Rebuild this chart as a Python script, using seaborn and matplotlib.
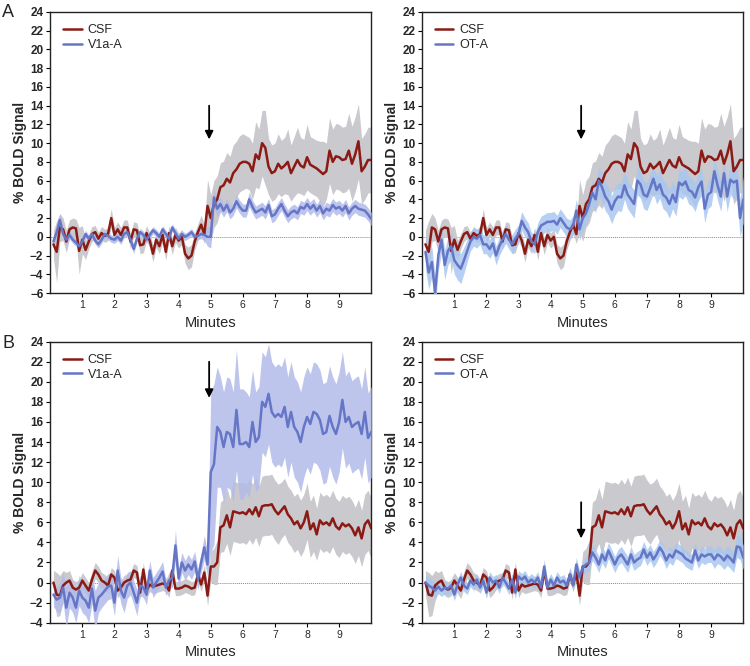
import numpy as np
import pandas as pd
import matplotlib
matplotlib.use("Agg")
import matplotlib.pyplot as plt
import seaborn as sns

sns.set_theme(style="ticks")
plt.rcParams['font.family'] = ['Liberation Sans', 'DejaVu Sans']

# time axis (minutes), one sample every 6 s
minutes = np.round(np.arange(1, 101) * 0.1, 1)

# ---- row A ----
a_csf = [-0.8, -1.6, 1.0, 0.8, -0.5, 0.8, 1.0, 0.9, -1.5, -0.3,
         -1.4, -0.5, 0.3, 0.5, -0.2, 0.4, 0.1, 0.3, 2.0, 0.2,
         0.8, 0.2, 1.0, 1.0, -0.5, 0.8, 0.7, -0.9, -0.8, 0.4,
         -0.4, -1.8, -0.3, -1.0, 0.2, -1.6, 0.4, -1.0, 0.2, -0.4,
         0.0, -1.8, -2.3, -2.0, -0.5, 0.5, 1.3, 0.3, 3.3, 2.0,
         3.5, 4.0, 5.3, 5.5, 6.2, 5.8, 6.8, 7.2, 7.8, 8.0,
         8.0, 7.8, 7.0, 8.8, 8.3, 10.0, 9.5, 7.5, 6.8, 7.0,
         7.8, 7.3, 7.6, 8.0, 6.8, 7.5, 8.2, 7.6, 7.4, 8.5,
         7.7, 7.5, 7.3, 7.0, 6.7, 7.0, 9.2, 8.0, 8.6, 8.5,
         8.2, 8.3, 9.2, 7.8, 8.8, 10.2, 7.0, 7.5, 8.2, 8.2]
a_csf_sem = [1.5, 3.3, 1.5, 1.2, 1.2, 1.0, 1.0, 1.0, 2.5, 1.5,
             1.0, 0.8, 0.8, 0.7, 0.7, 0.7, 0.7, 0.7, 1.0, 0.8,
             0.8, 0.8, 0.8, 0.8, 0.8, 0.8, 0.8, 0.9, 0.9, 0.8,
             0.8, 0.9, 0.8, 0.8, 0.8, 0.9, 0.8, 0.9, 0.8, 0.8,
             0.8, 1.0, 1.2, 1.2, 0.9, 0.9, 1.0, 1.0, 2.8, 2.5,
             2.5, 2.5, 2.6, 2.6, 2.8, 2.8, 3.0, 3.0, 3.0, 3.0,
             2.8, 2.8, 3.0, 3.5, 3.2, 3.5, 4.0, 3.0, 3.0, 3.0,
             3.2, 3.0, 3.0, 3.5, 3.0, 3.2, 3.5, 3.0, 3.0, 3.5,
             3.0, 3.0, 3.0, 3.2, 3.5, 3.0, 3.5, 3.5, 3.5, 3.5,
             3.5, 3.5, 4.0, 4.0, 4.0, 4.0, 3.5, 3.5, 3.5, 3.5]
a_v1a = [-0.5, 0.5, 1.8, 0.3, -0.3, 0.2, -0.3, -0.6, -1.0, -0.5,
         0.3, -0.2, 0.3, -0.4, -0.8, -0.3, 0.3, 0.1, -0.2, -0.3,
         0.0, -0.4, 0.3, 0.5, -0.3, -1.3, -0.2, 0.5, 0.2, -0.3,
         0.2, 0.7, 0.4, 0.0, 0.8, 0.3, -0.2, 1.0, 0.4, -0.2,
         0.3, 0.0, 0.2, 0.5, 0.0, 0.1, 0.3, 0.2, 0.0, 0.0,
         4.2, 3.0, 3.5, 2.8, 3.4, 2.6, 3.0, 3.8, 3.2, 2.8,
         2.8, 4.0, 3.2, 2.6, 2.8, 3.0, 2.6, 3.4, 2.2, 2.4,
         3.0, 3.5, 2.8, 2.2, 2.6, 2.8, 2.5, 3.2, 3.0, 3.5,
         3.0, 3.4, 2.8, 3.3, 2.5, 3.0, 2.8, 3.4, 3.0, 3.2,
         2.8, 3.3, 2.5, 3.0, 3.3, 3.0, 2.9, 2.8, 2.4, 1.9]
a_v1a_sem = [0.5, 0.6, 0.6, 0.5, 0.5, 0.4, 0.4, 0.4, 0.5, 0.4,
             0.4, 0.4, 0.4, 0.4, 0.4, 0.4, 0.4, 0.4, 0.4, 0.4,
             0.4, 0.4, 0.4, 0.4, 0.4, 0.5, 0.4, 0.4, 0.4, 0.4,
             0.4, 0.4, 0.4, 0.4, 0.4, 0.4, 0.4, 0.4, 0.4, 0.4,
             0.4, 0.4, 0.4, 0.4, 0.4, 0.4, 0.5, 0.6, 1.0, 1.2,
             1.0, 0.8, 0.8, 0.7, 0.7, 0.7, 0.7, 0.7, 0.7, 0.7,
             0.7, 0.8, 0.7, 0.7, 0.7, 0.7, 0.7, 0.7, 0.7, 0.7,
             0.7, 0.7, 0.7, 0.7, 0.7, 0.7, 0.7, 0.7, 0.7, 0.7,
             0.7, 0.7, 0.7, 0.7, 0.7, 0.7, 0.7, 0.7, 0.7, 0.7,
             0.7, 0.7, 0.7, 0.7, 0.7, 0.7, 0.7, 0.7, 0.7, 0.7]
a_ota = [-1.6, -3.8, -2.7, -6.0, -2.0, -0.3, -3.0, -1.5, -1.0, -2.5,
         -3.0, -3.4, -2.5, -1.5, -0.5, 0.0, -0.2, 0.2, -0.8, -0.8,
         -1.3, -0.7, -2.0, -1.0, -0.3, 0.3, -0.3, -0.8, -0.2, 0.3,
         1.7, 1.0, 0.5, -0.5, -0.8, 0.5, 1.2, 1.4, 1.6, 1.6,
         1.7, 1.3, 2.0, 1.5, 1.0, 0.8, 1.2, 2.8, 0.8, 2.0,
         2.5, 3.5, 4.7, 4.0, 6.0, 5.3, 4.3, 3.8, 2.9, 3.8,
         4.3, 4.2, 5.5, 4.5, 4.0, 3.5, 6.0, 5.6, 4.5, 4.3,
         5.2, 6.2, 5.0, 5.6, 4.5, 4.2, 3.5, 4.5, 3.7, 5.8,
         5.5, 5.9, 5.0, 4.8, 4.2, 5.3, 5.9, 3.0, 4.5, 4.8,
         7.0, 5.5, 4.3, 6.8, 4.3, 6.1, 5.8, 6.0, 2.0, 4.0]
a_ota_sem = [1.8, 1.8, 1.6, 1.8, 1.6, 1.4, 1.6, 1.5, 1.4, 1.5,
             1.6, 1.6, 1.4, 1.2, 1.0, 1.0, 1.0, 1.0, 1.0, 1.0,
             1.0, 1.0, 1.0, 1.0, 1.0, 1.0, 1.0, 1.0, 1.0, 1.0,
             1.0, 1.0, 1.0, 1.0, 1.0, 1.0, 1.0, 1.0, 1.0, 1.0,
             1.0, 1.0, 1.0, 1.0, 1.0, 1.0, 1.0, 1.2, 1.2, 1.2,
             1.2, 1.3, 1.4, 1.4, 1.5, 1.5, 1.5, 1.5, 1.5, 1.5,
             1.5, 1.5, 1.5, 1.5, 1.5, 1.5, 1.5, 1.5, 1.5, 1.5,
             1.5, 1.5, 1.5, 1.5, 1.5, 1.5, 1.5, 1.5, 1.5, 1.5,
             1.5, 1.5, 1.5, 1.5, 1.5, 1.5, 1.5, 1.5, 1.5, 1.5,
             1.6, 1.6, 1.6, 1.6, 1.6, 1.6, 1.8, 1.8, 2.0, 2.5]

# ---- row B ----
b_csf = [0.0, -1.2, -1.3, -0.3, 0.0, 0.2, -0.5, -0.7, -0.5, 0.2,
         -0.3, -0.8, 0.3, 1.2, 0.8, 0.2, 0.0, -0.3, 0.8, 0.5,
         -0.8, -0.5, 0.0, 0.2, 0.3, 1.2, 1.0, -1.0, 1.3, -0.8,
         -0.2, -0.4, -0.3, -0.2, -0.1, -0.2, -0.8, 1.2, -0.6, -0.6,
         -0.5, -0.3, -0.4, -0.6, -0.5, 0.8, -0.2, 1.0, -1.3, 1.6,
         1.6, 2.0, 5.5, 5.7, 6.7, 5.5, 7.1, 7.0, 6.9, 7.0,
         6.8, 7.3, 6.8, 7.5, 6.6, 7.6, 7.7, 7.7, 7.8, 7.2,
         6.8, 7.2, 7.6, 6.8, 6.4, 5.8, 6.1, 5.4, 6.0, 7.1,
         5.3, 5.9, 4.8, 6.2, 5.8, 6.0, 5.7, 6.4, 5.6, 5.3,
         5.9, 5.6, 5.8, 5.4, 4.7, 5.5, 4.4, 5.8, 6.2, 5.4]
b_csf_sem = [1.2, 2.2, 2.0, 1.5, 1.0, 1.0, 0.8, 0.8, 0.8, 0.8,
             0.8, 0.8, 0.8, 0.8, 0.8, 0.8, 0.8, 0.7, 0.7, 0.7,
             0.7, 0.7, 0.7, 0.7, 0.7, 0.7, 0.7, 0.7, 0.7, 0.7,
             0.7, 0.7, 0.7, 0.7, 0.7, 0.7, 0.7, 0.7, 0.7, 0.7,
             0.7, 0.7, 0.7, 0.7, 0.7, 0.7, 0.7, 0.8, 1.0, 1.5,
             1.8, 2.2, 2.5, 2.6, 2.8, 2.8, 3.0, 3.0, 3.0, 3.0,
             3.0, 3.0, 3.0, 3.0, 3.0, 3.0, 3.0, 3.0, 3.0, 3.0,
             3.0, 2.8, 2.8, 2.8, 2.8, 2.8, 2.8, 2.8, 2.8, 2.8,
             2.8, 2.8, 2.6, 2.8, 2.8, 2.8, 2.8, 2.8, 2.8, 2.8,
             2.8, 2.8, 2.8, 2.8, 2.8, 2.8, 2.8, 3.0, 3.0, 3.0]
b_v1a = [-1.2, -1.7, -1.5, -0.5, -2.5, -1.0, -1.5, -2.5, -0.8, -1.5,
         -1.8, -2.5, -0.6, -2.8, -1.5, -1.2, -0.8, -0.4, -0.3, -2.0,
         1.2, -0.8, -1.5, -0.3, 0.0, -1.0, -2.0, -0.3, -0.5, -1.2,
         1.2, -0.5, 0.0, 0.5, 1.1, -0.5, 0.2, 0.5, 3.7, 0.4,
         2.0, 1.2, 1.8, 1.3, 2.1, 0.3, 2.0, 3.5, 1.8, 11.0,
         11.8, 15.5, 15.0, 13.5, 15.0, 14.8, 13.5, 17.2, 13.8, 13.8,
         14.0, 13.5, 16.0, 14.0, 14.5, 18.0, 17.5, 18.8, 17.0, 16.5,
         16.8, 16.5, 17.5, 15.5, 17.0, 15.5, 15.0, 14.0, 15.5, 16.5,
         15.8, 17.0, 16.8, 16.2, 14.8, 15.0, 16.6, 15.5, 14.8, 16.0,
         18.2, 16.0, 16.5, 15.5, 15.8, 16.0, 14.8, 17.0, 14.4, 15.0]
b_v1a_sem = [1.2, 1.2, 1.5, 1.5, 2.0, 1.5, 1.5, 1.5, 1.5, 1.5,
             1.5, 1.5, 1.5, 2.0, 1.5, 1.3, 1.3, 1.3, 1.3, 1.3,
             1.5, 1.3, 1.5, 1.3, 1.2, 1.2, 1.3, 1.0, 1.0, 1.0,
             1.0, 1.0, 1.0, 1.0, 1.0, 0.8, 0.8, 1.0, 1.5, 1.0,
             1.0, 1.0, 1.0, 1.0, 1.0, 1.0, 1.0, 1.2, 1.2, 8.0,
             8.0, 6.0, 5.5, 5.5, 5.5, 5.5, 5.5, 6.0, 5.5, 5.5,
             5.0, 5.0, 5.2, 5.0, 5.0, 5.0, 5.0, 5.0, 5.0, 5.0,
             5.0, 5.0, 5.0, 5.0, 5.0, 5.0, 5.0, 5.0, 5.0, 5.0,
             5.0, 5.0, 5.0, 5.0, 5.0, 5.0, 5.0, 5.0, 5.0, 5.0,
             4.8, 4.6, 4.6, 4.6, 4.6, 4.6, 4.5, 4.5, 4.5, 4.5]
b_ota = [0.0, -0.3, -0.5, -0.8, -0.4, -0.8, -0.5, -0.6, -0.3, -1.2,
         -0.2, 0.5, -0.3, -0.6, 0.2, -0.2, 0.3, -0.5, 0.2, -1.0,
         0.5, 0.0, 0.2, -0.5, 0.5, 0.0, -0.6, 0.3, -1.0, 0.6,
         0.3, 0.6, 0.0, 0.3, 0.0, 0.5, -0.5, 1.6, -0.5, 0.3,
         -0.3, 0.5, 0.0, 0.2, -0.3, 0.8, -0.3, 1.8, 0.5, 1.5,
         1.8, 2.0, 3.0, 2.5, 1.8, 2.8, 2.2, 3.2, 2.5, 1.8,
         2.5, 2.8, 2.3, 1.8, 2.8, 2.0, 2.3, 2.5, 3.3, 2.5,
         3.0, 2.3, 2.8, 3.5, 3.0, 2.2, 2.8, 2.5, 3.2, 3.0,
         2.8, 2.4, 2.2, 2.0, 3.2, 2.2, 2.8, 2.6, 2.8, 2.8,
         2.3, 2.8, 2.6, 2.2, 2.7, 2.4, 2.0, 3.6, 3.5, 2.5]
b_ota_sem = [0.7, 0.8, 0.8, 0.7, 0.7, 0.6, 0.6, 0.6, 0.6, 0.6,
             0.6, 0.6, 0.6, 0.6, 0.6, 0.6, 0.6, 0.6, 0.6, 0.6,
             0.6, 0.6, 0.6, 0.6, 0.6, 0.6, 0.6, 0.6, 0.6, 0.6,
             0.6, 0.6, 0.6, 0.6, 0.6, 0.6, 0.6, 0.7, 0.7, 0.6,
             0.6, 0.6, 0.6, 0.6, 0.6, 0.6, 0.6, 0.7, 0.7, 0.7,
             0.8, 0.8, 0.8, 0.8, 0.8, 0.8, 0.8, 0.8, 0.8, 0.8,
             0.8, 0.8, 0.8, 0.8, 0.8, 0.8, 0.8, 0.8, 0.8, 0.8,
             0.8, 0.8, 0.8, 0.8, 0.8, 0.8, 0.8, 0.8, 0.8, 0.8,
             0.8, 0.8, 0.8, 0.8, 0.8, 0.8, 0.8, 0.8, 0.8, 0.8,
             0.9, 0.9, 0.9, 0.9, 1.0, 1.0, 1.0, 1.1, 1.2, 1.2]

CSF_LINE = '#8b1a14'
CSF_BAND = '#c9c9ce'
BLUE_LINE = '#6676c6'
V1A_BAND = '#b3bbea'
OTA_BAND = '#a9c7f0'

panels = [
    # (position, drug label, drug mean, drug sem, drug band, csf mean, csf sem, ylim, arrow top)
    ([0.067, 0.560, 0.428, 0.422], 'V1a-A', a_v1a, a_v1a_sem, V1A_BAND, a_csf, a_csf_sem, (-6, 24), 14),
    ([0.563, 0.560, 0.428, 0.422], 'OT-A', a_ota, a_ota_sem, OTA_BAND, a_csf, a_csf_sem, (-6, 24), 14),
    ([0.067, 0.065, 0.428, 0.422], 'V1a-A', b_v1a, b_v1a_sem, V1A_BAND, b_csf, b_csf_sem, (-4, 24), 22),
    ([0.563, 0.065, 0.428, 0.422], 'OT-A', b_ota, b_ota_sem, OTA_BAND, b_csf, b_csf_sem, (-4, 24), 8),
]

fig = plt.figure(figsize=(7.5, 6.66), dpi=100)

for pos, drug, d_mean, d_sem, d_band, c_mean, c_sem, ylim, arrow_top in panels:
    ax = fig.add_axes(pos)
    df = pd.DataFrame({'Minutes': minutes, 'CSF': c_mean, 'drug': d_mean,
                       'csf_sem': c_sem, 'drug_sem': d_sem})

    ax.axhline(0, color='#888888', lw=0.7, ls=(0, (1, 1)), zorder=1)
    ax.fill_between(df['Minutes'], df['CSF'] - df['csf_sem'], df['CSF'] + df['csf_sem'],
                    color=CSF_BAND, lw=0, zorder=2)
    ax.fill_between(df['Minutes'], df['drug'] - df['drug_sem'], df['drug'] + df['drug_sem'],
                    color=d_band, lw=0, alpha=0.85, zorder=3)
    sns.lineplot(data=df, x='Minutes', y='CSF', ax=ax, color=CSF_LINE, lw=1.8,
                 label='CSF', zorder=4)
    sns.lineplot(data=df, x='Minutes', y='drug', ax=ax, color=BLUE_LINE, lw=1.8,
                 label=drug, zorder=5)

    ax.annotate('', xy=(4.95, arrow_top - 3.6), xytext=(4.95, arrow_top),
                arrowprops=dict(arrowstyle='-|>', color='black', lw=1.3,
                                mutation_scale=12, shrinkA=0, shrinkB=0))

    ax.set_xlim(0, 10)
    ax.set_ylim(*ylim)
    ax.set_xticks(range(1, 10))
    ax.set_yticks(range(ylim[0], 25, 2))
    ax.tick_params(axis='both', length=3, width=0.8, color='black')
    ax.tick_params(axis='x', labelsize=7.5, pad=2)
    ax.tick_params(axis='y', labelsize=8.5, pad=2)
    for lab in ax.get_yticklabels():
        lab.set_fontweight('bold')
    for s in ax.spines.values():
        s.set_color('#222222')
        s.set_linewidth(1.0)
    ax.set_xlabel('Minutes', fontsize=10.5, labelpad=4)
    ax.set_ylabel('% BOLD Signal', fontsize=10, fontweight='bold', labelpad=2)
    ax.legend(loc='upper left', frameon=False, fontsize=9, handlelength=1.5,
              handletextpad=0.5, borderaxespad=0.6, labelspacing=0.2)

fig.text(0.003, 0.975, 'A', fontsize=13)
fig.text(0.003, 0.478, 'B', fontsize=13)

plt.savefig('out.png', dpi=100)
